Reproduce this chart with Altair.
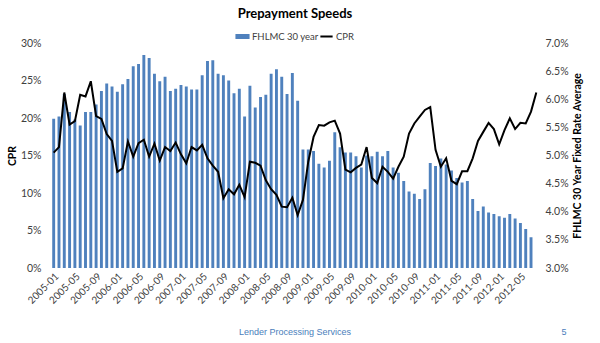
import altair as alt
import pandas as pd

# ---- data ----
months = [f"{y}-{m:02d}" for y in range(2005, 2013) for m in range(1, 13)][:92]
tick_labels = months[::4]

bar_series = "FHLMC 30 year"
line_series = "CPR"

bar_values = [
    19.9, 20.2, 23.2, 20.8, 19.8, 19.0, 20.8, 20.8, 21.8, 23.6, 24.6, 24.2,
    23.5, 24.5, 25.2, 26.9, 27.2, 28.4, 28.0, 25.9, 24.9, 25.5, 23.6, 23.9,
    24.4, 24.2, 23.8, 23.8, 25.7, 27.6, 27.7, 25.9, 25.7, 25.0, 23.3, 23.9,
    20.2, 24.3, 21.4, 22.8, 23.1, 25.9, 26.5, 25.5, 23.2, 26.0, 22.3, 15.8,
    15.8, 15.6, 13.9, 13.4, 14.3, 18.1, 16.1, 15.4, 15.4, 14.9, 13.4, 15.0,
    14.9, 15.5, 14.9, 15.6, 13.4, 12.7, 11.6, 10.2, 9.9, 9.2, 10.5, 14.0,
    13.6, 14.6, 13.8, 13.0, 12.0, 11.4, 11.6, 9.2, 7.6, 8.2, 7.4, 7.2,
    6.9, 6.7, 7.2, 6.6, 6.0, 5.2, 4.1, None,
]

line_values = [
    5.05, 5.15, 6.12, 5.55, 5.61, 6.08, 6.05, 6.32, 5.70, 5.65, 5.38, 5.26,
    4.71, 4.77, 5.25, 4.98, 5.22, 5.28, 4.98, 5.21, 4.91, 5.15, 5.08, 5.23,
    5.02, 4.86, 5.15, 5.09, 5.19, 4.95, 4.82, 4.71, 4.24, 4.40, 4.31, 4.48,
    4.26, 4.89, 4.87, 4.82, 4.56, 4.40, 4.30, 4.09, 4.08, 4.25, 3.94, 4.21,
    4.89, 5.33, 5.54, 5.53, 5.59, 5.62, 5.39, 4.75, 4.70, 4.78, 4.84, 5.15,
    4.60, 4.51, 4.80, 4.71, 4.59, 4.80, 4.98, 5.39, 5.57, 5.69, 5.81, 5.86,
    5.10, 4.80, 4.95, 4.55, 4.49, 4.72, 4.72, 4.95, 5.26, 5.42, 5.58, 5.47,
    5.20, 5.45, 5.66, 5.47, 5.58, 5.57, 5.78, 6.12,
]

left_ticks = [0, 5, 10, 15, 20, 25, 30]
right_ticks = [3.0, 3.5, 4.0, 4.5, 5.0, 5.5, 6.0, 6.5, 7.0]

title_text = "Prepayment Speeds"
left_title = "CPR"
right_title = "FHLMC 30 Year Fixed Rate Average"
footer_text = ["Lender Processing Services"]
page_text = ["5"]

df = pd.DataFrame({
    "month": months,
    "bar": bar_values,
    "rate": line_values,
    "s1": [bar_series] * len(months),
    "s2": [line_series] * len(months),
})

FONT = "Lato"
LABEL = "#404040"

x_enc = alt.X(
    "month:O",
    sort=months,
    scale=alt.Scale(paddingInner=0.45, paddingOuter=0.23),
    axis=alt.Axis(
        values=tick_labels, labelAngle=-45, title=None, domain=False,
        ticks=False, labelPadding=3, labelFontSize=10, labelFont=FONT,
        labelColor=LABEL,
    ),
)

bars = alt.Chart(df).mark_bar().encode(
    x=x_enc,
    y=alt.Y(
        "bar:Q",
        scale=alt.Scale(domain=[0, 30]),
        axis=alt.Axis(
            values=left_ticks, labelExpr="datum.value + '%'", title=left_title,
            grid=False, domain=False, ticks=False, labelPadding=10,
            titlePadding=3, labelFontSize=10.5, labelFont=FONT,
            labelColor=LABEL, titleFont=FONT, titleFontSize=10.5,
            titleFontWeight="bold", titleColor="black",
        ),
    ),
    color=alt.Color(
        "s1:N",
        scale=alt.Scale(domain=[bar_series], range=["#4f81bd"]),
        legend=alt.Legend(
            title=None, orient="none", legendX=184, legendY=-14,
            symbolType="M-1,-0.35H1V0.35H-1Z", symbolSize=200,
            symbolStrokeWidth=0, labelFont=FONT, labelFontSize=9.5,
            labelColor=LABEL, symbolOpacity=1, labelOffset=2,
        ),
    ),
)

line = alt.Chart(df).mark_line(strokeWidth=2).encode(
    x=x_enc,
    y=alt.Y(
        "rate:Q",
        scale=alt.Scale(domain=[3, 7], zero=False),
        axis=alt.Axis(
            orient="right", values=right_ticks,
            labelExpr="format(datum.value, '.1f') + '%'", title=right_title,
            grid=False, domain=False, ticks=False, labelPadding=6,
            titlePadding=4, labelFontSize=10.5, labelFont=FONT,
            labelColor=LABEL, titleFont=FONT, titleFontSize=10.5,
            titleFontWeight="bold", titleColor="black", titleAngle=270,
            titleBaseline="top",
        ),
    ),
    stroke=alt.Stroke(
        "s2:N",
        scale=alt.Scale(domain=[line_series], range=["black"]),
        legend=alt.Legend(
            title=None, orient="none", legendX=268, legendY=-14,
            symbolType="stroke", symbolSize=150, symbolStrokeWidth=2,
            labelFont=FONT, labelFontSize=9.5, labelColor=LABEL,
            labelOffset=2,
        ),
    ),
)

footer = alt.Chart(pd.DataFrame({"t": footer_text})).mark_text(
    font="Liberation Sans", fontSize=9, color="#4a7ebb", align="center",
    baseline="alphabetic",
).encode(text="t:N", x=alt.value(244), y=alt.value(292))

page = alt.Chart(pd.DataFrame({"t": page_text})).mark_text(
    font="Liberation Sans", fontSize=9, color="#4a7ebb", align="center",
    baseline="alphabetic",
).encode(text="t:N", x=alt.value(513), y=alt.value(292))

chart = (
    alt.layer(bars, line, footer, page)
    .resolve_scale(y="independent")
    .properties(
        width=488,
        height=225,
        title=alt.Title(
            title_text, font=FONT, fontSize=13, fontWeight="bold",
            color="black", anchor="middle", offset=8,
        ),
        padding={"left": 51, "top": 43, "right": 61, "bottom": 75},
        autosize="none",
        background="white",
    )
    .configure_view(stroke=None)
)

chart.save("out.html", embed_options={"renderer": "svg", "actions": False})
